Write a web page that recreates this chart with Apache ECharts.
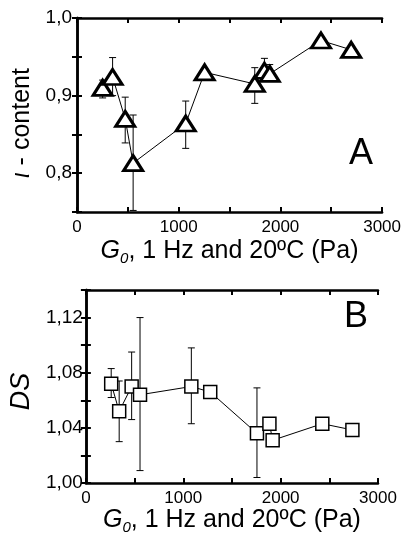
<!DOCTYPE html>
<html>
<head>
<meta charset="utf-8">
<script src="https://cdn.jsdelivr.net/npm/echarts@6/dist/echarts.min.js"></script>
<style>html,body{margin:0;padding:0;background:#fff;}#c{width:404px;height:538px;}</style>
</head>
<body>
<div id="c"></div>
<script>
// Panel A: iota-content vs G0
var gA = [252, 350, 474, 552, 1069, 1255, 1748, 1843, 1895, 2399, 2696];
var iotaA = [0.910, 0.924, 0.870, 0.813, 0.864, 0.930, 0.915, 0.932, 0.928, 0.971, 0.959];
var errLowA = [0.897, 0.900, 0.839, 0.752, 0.832, null, 0.890, 0.920, 0.919, null, null];
var errHighA = [0.920, 0.949, 0.898, 0.875, 0.893, null, 0.936, 0.948, 0.940, null, null];
// Panel B: DS vs G0
var gB = [260, 342, 470, 556, 1083, 1277, 1757, 1885, 1918, 2428, 2737];
var dsB = [1.072, 1.052, 1.070, 1.064, 1.070, 1.066, 1.036, 1.043, 1.031, 1.043, 1.0385];
var errLowB = [1.062, 1.030, 1.046, 1.009, 1.043, null, 1.004, null, 1.029, null, null];
var errHighB = [1.083, 1.074, 1.095, 1.120, 1.098, null, 1.069, null, 1.035, null, null];
// tick labels
var xTicks = [0, 1000, 2000, 3000];
var yTicksA = [0.8, 0.9, 1.0];
var yTicksB = [1.00, 1.04, 1.08, 1.12];

var FONT = '"Liberation Sans", Arial, sans-serif';
function pairs(xs, ys) { return xs.map(function (x, i) { return [x, ys[i]]; }); }
function errData(xs, lo, hi) {
  var out = [];
  xs.forEach(function (x, i) { if (lo[i] != null && hi[i] != null) out.push([x, lo[i], hi[i]]); });
  return out;
}
function near(v, list) { for (var i = 0; i < list.length; i++) if (Math.abs(v - list[i]) < 1e-6) return true; return false; }
function errRender(params, api) {
  var x = api.value(0), lo = api.value(1), hi = api.value(2);
  var p1 = api.coord([x, lo]), p2 = api.coord([x, hi]);
  var w = 3.5;
  var st = { stroke: '#000', lineWidth: 1 };
  return { type: 'group', children: [
    { type: 'line', shape: { x1: p1[0], y1: p1[1], x2: p2[0], y2: p2[1] }, style: st },
    { type: 'line', shape: { x1: p1[0] - w, y1: p1[1], x2: p1[0] + w, y2: p1[1] }, style: st },
    { type: 'line', shape: { x1: p2[0] - w, y1: p2[1], x2: p2[0] + w, y2: p2[1] }, style: st }
  ]};
}
var axLine = { show: true, lineStyle: { color: '#000', width: 2.5 } };
var tickIn = { show: true, inside: true, length: 5, lineStyle: { color: '#000', width: 2 } };
var nameStyleX = {
  color: '#000', fontFamily: FONT, fontSize: 25,
  rich: {
    i: { fontStyle: 'italic', fontSize: 25, fontFamily: FONT, color: '#000' },
    s: { fontStyle: 'italic', fontSize: 15, fontFamily: FONT, color: '#000', padding: [15, 0, 0, 0] },
    n: { fontSize: 25, fontFamily: FONT, color: '#000' }
  }
};
var xName = '{i|G}{s|0}{n|, 1 Hz and 20ºC (Pa)}';
function xAxisMain(gi, gap) {
  return {
    gridIndex: gi, type: 'value', min: 0, max: 3000, interval: 500, position: 'bottom',
    axisLine: axLine, axisTick: tickIn, splitLine: { show: false },
    axisLabel: { color: '#000', fontFamily: FONT, fontSize: 17, margin: 7,
      formatter: function (v) { return near(v, xTicks) ? String(v) : ''; } },
    name: xName, nameLocation: 'middle', nameGap: gap, nameTextStyle: nameStyleX
  };
}
function xAxisTop(gi) {
  return { gridIndex: gi, type: 'value', min: 0, max: 3000, interval: 500, position: 'top',
    axisLine: axLine, axisTick: tickIn, axisLabel: { show: false }, splitLine: { show: false } };
}
function yAxisRight(gi, mn, mx, iv) {
  return { gridIndex: gi, type: 'value', min: mn, max: mx, interval: iv, position: 'right',
    axisLine: axLine, axisTick: tickIn, axisLabel: { show: false }, splitLine: { show: false } };
}
var chart = echarts.init(document.getElementById('c'), null, { renderer: 'canvas' });
chart.setOption({
  backgroundColor: '#fff',
  animation: false,
  grid: [
    { left: 77, top: 18, width: 306, height: 194 },
    { left: 73, top: 290, width: 305, height: 193 }
  ],
  xAxis: [xAxisMain(0, 24), xAxisTop(0), xAxisMain(1, 22), xAxisTop(1)],
  yAxis: [
    { gridIndex: 0, type: 'value', min: 0.75, max: 1.0, interval: 0.05, position: 'left',
      axisLine: axLine, axisTick: tickIn, splitLine: { show: false },
      axisLabel: { color: '#000', fontFamily: FONT, fontSize: 19, margin: 5,
        formatter: function (v) { return near(v, yTicksA) ? v.toFixed(1).replace('.', ',') : ''; } },
      name: '{i|ι}{n| - content}', nameLocation: 'middle', nameGap: 42,
      nameTextStyle: { color: '#000', fontFamily: FONT, fontSize: 25, padding: [0, 16, 0, 0],
        rich: { i: { fontStyle: 'italic', fontSize: 25, fontFamily: FONT, color: '#000' },
                n: { fontSize: 25, fontFamily: FONT, color: '#000' } } } },
    yAxisRight(0, 0.75, 1.0, 0.05),
    { gridIndex: 1, type: 'value', min: 1.0, max: 1.14, interval: 0.02, position: 'left',
      axisLine: axLine, axisTick: tickIn, splitLine: { show: false },
      axisLabel: { color: '#000', fontFamily: FONT, fontSize: 19, margin: 3,
        formatter: function (v) { return near(v, yTicksB) ? v.toFixed(2).replace('.', ',') : ''; } },
      name: 'DS', nameLocation: 'middle', nameGap: 38,
      nameTextStyle: { color: '#000', fontFamily: FONT, fontSize: 27, fontStyle: 'italic', padding: [0, 10, 0, 0] } },
    yAxisRight(1, 1.0, 1.14, 0.02)
  ],
  graphic: [
    { type: 'text', left: 349, top: 136, style: { text: 'A', font: '36px ' + FONT, fill: '#000' } },
    { type: 'text', left: 344, top: 299, style: { text: 'B', font: '36px ' + FONT, fill: '#000' } }
  ],
  series: [
    { type: 'custom', xAxisIndex: 0, yAxisIndex: 0, renderItem: errRender, data: errData(gA, errLowA, errHighA),
      encode: { x: 0, y: [1, 2] }, z: 1 },
    { type: 'line', xAxisIndex: 0, yAxisIndex: 0, data: pairs(gA, iotaA), symbol: 'triangle', symbolSize: [19, 15],
      lineStyle: { color: '#000', width: 1 }, itemStyle: { color: '#fff', borderColor: '#000', borderWidth: 3 }, z: 3 },
    { type: 'custom', xAxisIndex: 2, yAxisIndex: 2, renderItem: errRender, data: errData(gB, errLowB, errHighB),
      encode: { x: 0, y: [1, 2] }, z: 1 },
    { type: 'line', xAxisIndex: 2, yAxisIndex: 2, data: pairs(gB, dsB), symbol: 'rect', symbolSize: 13,
      lineStyle: { color: '#000', width: 1 }, itemStyle: { color: '#fff', borderColor: '#000', borderWidth: 1.5 }, z: 3 }
  ]
});
</script>
</body>
</html>
